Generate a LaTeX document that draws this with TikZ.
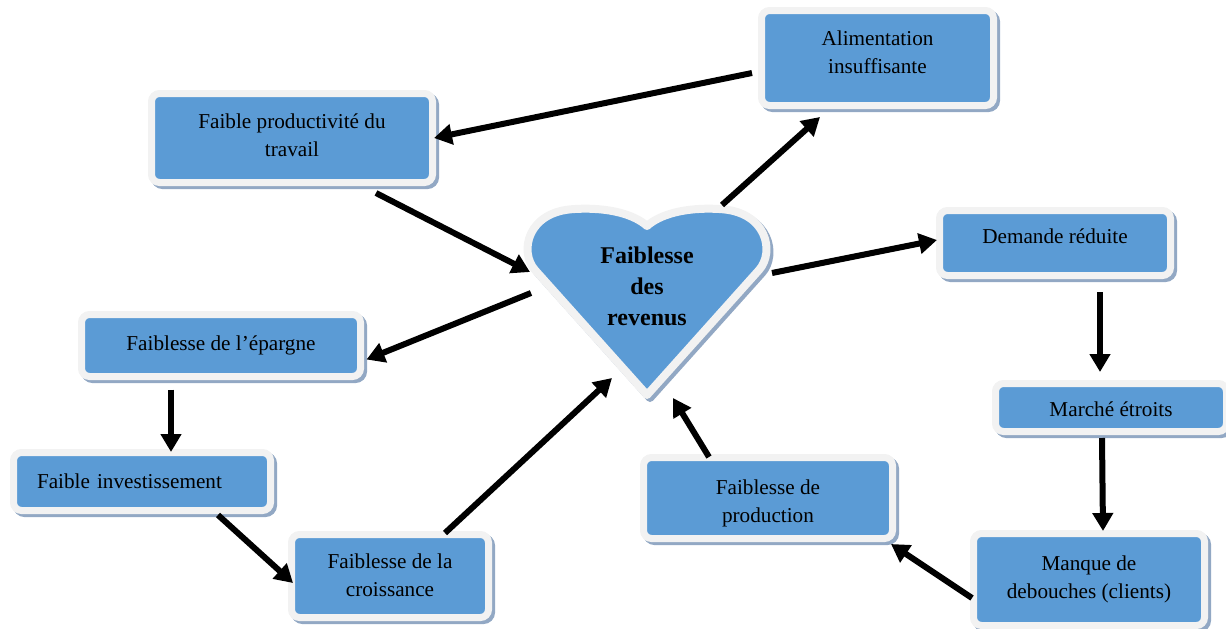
\documentclass[tikz,border=0pt]{standalone}
\usepackage{fontspec}
\setmainfont{Liberation Serif}
\usetikzlibrary{arrows.meta,calc}
\definecolor{boxblue}{HTML}{5B9BD5}
\definecolor{rimgray}{HTML}{F2F2F2}
\definecolor{shadowc}{RGB}{146,168,196}
\newcommand\txtshift[2]{\raisebox{#1}[\height][\depth]{\begin{tabular}{@{}c@{}}#2\end{tabular}}}
\tikzset{
  box/.style={rounded corners=8pt, fill=boxblue, draw=rimgray, line width=7pt,
    inner sep=0pt, outer sep=0pt, align=center, text=black,
    font=\fontsize{21.2}{28.5}\selectfont,
    preaction={fill=shadowc, draw=shadowc, line width=7pt, transform canvas={shift={(3pt,-3pt)}}}},
  arr/.style={line width=6pt, -{Triangle[length=18pt,width=20pt]}, black},
  heartrim/.style={fill=boxblue, draw=rimgray, line width=8pt, line join=round},
  heartshadow/.style={fill=shadowc, draw=shadowc, line width=8pt, line join=round, transform canvas={shift={(3pt,-3pt)}}},
}
\begin{document}
\begin{tikzpicture}[x=1pt,y=-1pt]
\useasboundingbox (0,0) rectangle (1226,629);

% heart
\path[heartshadow] (647,395) -- (535,270) .. controls (519,252) and (527,211) .. (575,209) .. controls (610,207) and (635,215) .. (647,226) .. controls (659,215) and (684,207) .. (719,209) .. controls (767,211) and (775,252) .. (759,270) -- cycle;
\path[heartrim] (647,395) -- (535,270) .. controls (519,252) and (527,211) .. (575,209) .. controls (610,207) and (635,215) .. (647,226) .. controls (659,215) and (684,207) .. (719,209) .. controls (767,211) and (775,252) .. (759,270) -- cycle;
\node[font=\bfseries\fontsize{24}{31}\selectfont, align=center, inner sep=0pt, outer sep=0pt] (heart) at (647,286) {Faiblesse\\des\\revenus};

% boxes
\node[box, minimum width=232pt, minimum height=95pt] (alim) at (877.5,58) {\txtshift{4pt}{Alimentation\\insuffisante}};
\node[box, minimum width=281pt, minimum height=89pt] (prod) at (292,138) {\txtshift{1pt}{Faible productivité du\\travail}};
\node[box, minimum width=231pt, minimum height=65pt] (dem) at (1055,243) {\txtshift{5pt}{Demande réduite}};
\node[box, minimum width=231pt, minimum height=48pt] (marche) at (1111,407.5) {\txtshift{-3pt}{Marché étroits}};
\node[box, minimum width=231pt, minimum height=92pt] (manque) at (1089,579.5) {Manque de\\debouches (clients)};
\node[box, minimum width=249pt, minimum height=81pt] (prodn) at (768,498) {\txtshift{-5pt}{Faiblesse de\\production}};
\node[box, minimum width=197pt, minimum height=83pt] (crois) at (390,576) {\txtshift{-1pt}{Faiblesse de la\\croissance}};
\node[box, minimum width=279pt, minimum height=62pt] (epargne) at (221,345.5) {Faiblesse de l’épargne};
\node[box, minimum width=257pt, minimum height=58pt, text width=210pt, align=left, inner xsep=23.5pt] (invest) at (142,481.5) {Faible investissement};

% arrows
\draw[arr] ($(alim.west)+(-9.5,15)$) -- ($(prod.east)+(1.5,0)$);
\draw[arr] ($(prod.south)+(84,10.5)$) -- ($(heart)+(-117,-14)$);
\draw[arr] ($(heart)+(75,-81)$) -- ($(alim.south)+(-57.5,11.5)$);
\draw[arr] ($(heart)+(125,-13)$) -- ($(dem.west)+(-2.5,-3)$);
\draw[arr] ($(dem.south)+(45,16.5)$) -- ($(marche.north)+(-11,-11.5)$);
\draw[arr] ($(marche.south)+(-9,6.5)$) -- ($(manque.north)+(14,-2.5)$);
\draw[arr] ($(manque.west)+(-1.5,18.5)$) -- ($(prodn.south east)+(-1.5,5.5)$);
\draw[arr] ($(prodn.north)+(-59,-0.5)$) -- ($(heart)+(26,112)$);
\draw[arr] ($(crois.north)+(55,-1.5)$) -- ($(heart)+(-35,92)$);
\draw[arr] ($(heart)+(-116,7)$) -- ($(epargne.east)+(6,14)$);
\draw[arr] ($(epargne.south)+(-50,13)$) -- ($(invest.north)+(29,-0.5)$);
\draw[arr] ($(invest.south)+(76,4.5)$) -- ($(crois.west)+(1.5,7)$);
\end{tikzpicture}
\end{document}
